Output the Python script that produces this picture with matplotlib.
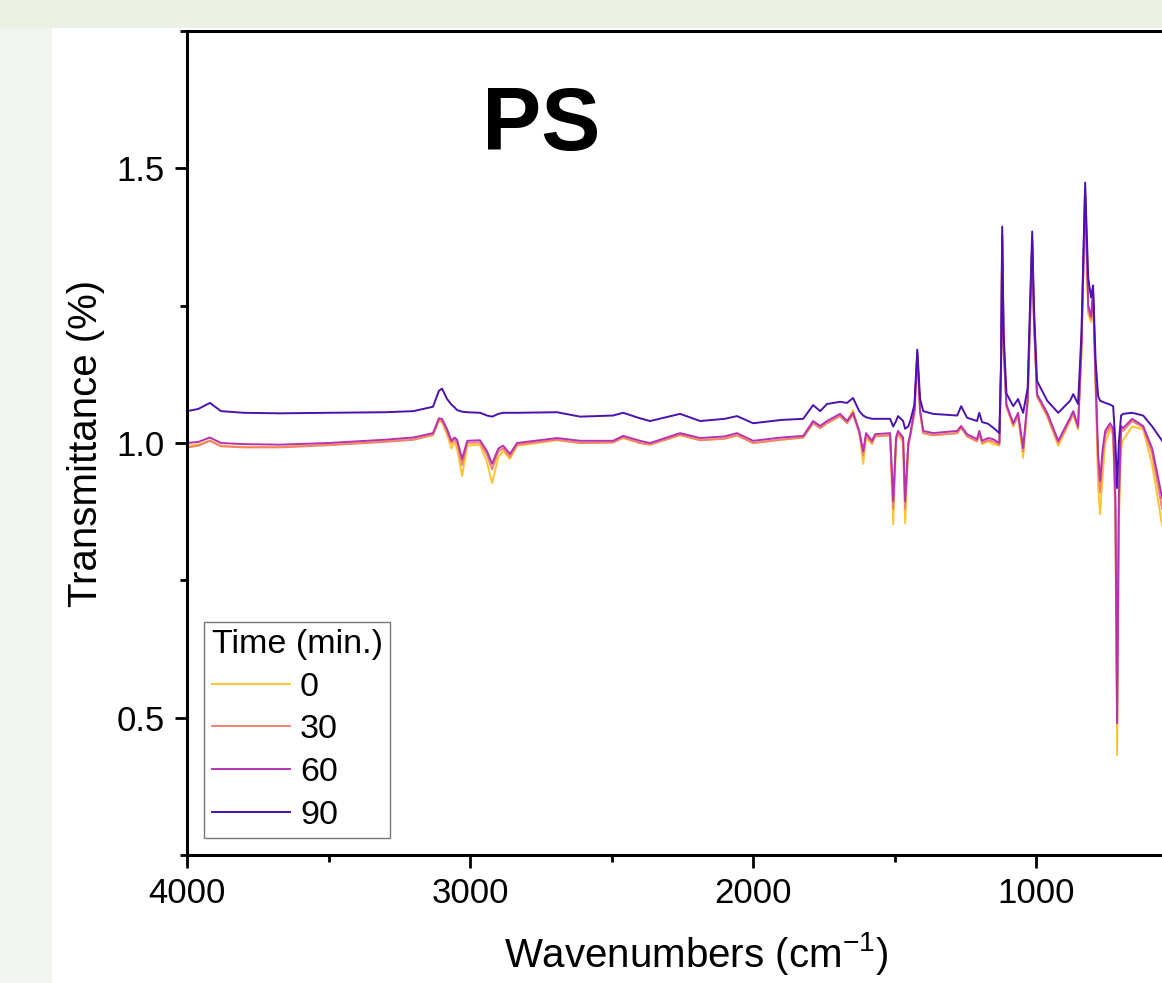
import matplotlib
matplotlib.use("Agg")
import matplotlib.pyplot as plt
from matplotlib.ticker import MultipleLocator
from matplotlib.patches import Rectangle

plt.rcParams['font.family'] = ['Liberation Sans', 'DejaVu Sans']

# ---- data ----
wavenumber = [4000, 3960, 3919, 3880, 3800, 3671, 3500, 3300, 3200, 3131,
              3110, 3099, 3081, 3066, 3055, 3046, 3028, 3010, 2965, 2940,
              2922, 2900, 2883, 2859, 2834, 2693, 2611, 2495, 2459, 2400,
              2364, 2258, 2187, 2100, 2057, 2000, 1900, 1823, 1788, 1763,
              1739, 1693, 1668, 1647, 1625, 1611, 1601, 1580, 1569, 1516,
              1505, 1495, 1488, 1470, 1463, 1452, 1445, 1430, 1420, 1410,
              1399, 1364, 1279, 1265, 1244, 1209, 1201, 1191, 1170, 1152,
              1130, 1124, 1120, 1115, 1105, 1081, 1064, 1046, 1030, 1019,
              1014, 1008, 997, 961, 922, 880, 869, 852, 840, 827,
              816, 806, 799, 790, 781, 774, 765, 756, 739, 728,
              720, 714, 708, 700, 693, 661, 622, 590, 555]

t90 = [1.058, 1.062, 1.073, 1.058, 1.055, 1.054, 1.055, 1.056, 1.058, 1.066,
       1.095, 1.099, 1.080, 1.070, 1.065, 1.060, 1.057, 1.056, 1.055, 1.050,
       1.048, 1.053, 1.055, 1.055, 1.055, 1.056, 1.048, 1.050, 1.055, 1.045,
       1.040, 1.053, 1.040, 1.044, 1.049, 1.036, 1.042, 1.044, 1.069, 1.058,
       1.071, 1.075, 1.073, 1.082, 1.058, 1.050, 1.047, 1.044, 1.044, 1.044,
       1.030, 1.040, 1.049, 1.040, 1.026, 1.030, 1.040, 1.070, 1.170, 1.080,
       1.058, 1.053, 1.050, 1.067, 1.046, 1.040, 1.055, 1.038, 1.035, 1.028,
       1.018, 1.150, 1.394, 1.200, 1.090, 1.067, 1.080, 1.055, 1.100, 1.300,
       1.385, 1.250, 1.113, 1.077, 1.055, 1.077, 1.089, 1.071, 1.200, 1.474,
       1.300, 1.265, 1.287, 1.150, 1.085, 1.077, 1.075, 1.073, 1.070, 1.067,
       1.000, 0.918, 1.000, 1.050, 1.053, 1.055, 1.050, 1.030, 1.004]

t60 = [1.000, 1.002, 1.010, 1.000, 0.998, 0.997, 1.000, 1.006, 1.010, 1.018,
       1.045, 1.044, 1.025, 1.004, 1.010, 1.006, 0.971, 1.004, 1.005, 0.985,
       0.962, 0.990, 0.995, 0.980, 1.000, 1.009, 1.004, 1.004, 1.013, 1.004,
       1.000, 1.018, 1.009, 1.012, 1.018, 1.004, 1.010, 1.013, 1.040, 1.031,
       1.040, 1.053, 1.040, 1.055, 1.022, 0.985, 1.018, 1.004, 1.016, 1.018,
       0.894, 1.010, 1.022, 1.010, 0.894, 1.000, 1.016, 1.060, 1.165, 1.060,
       1.022, 1.018, 1.022, 1.031, 1.016, 1.007, 1.022, 1.004, 1.009, 1.007,
       1.000, 1.140, 1.380, 1.180, 1.070, 1.036, 1.055, 0.991, 1.080, 1.280,
       1.370, 1.230, 1.089, 1.055, 1.004, 1.046, 1.058, 1.031, 1.180, 1.460,
       1.250, 1.230, 1.275, 1.120, 0.980, 0.931, 0.990, 1.022, 1.036, 1.027,
       0.900, 0.490, 0.900, 1.031, 1.027, 1.044, 1.031, 0.990, 0.900]

t30 = [0.992, 0.995, 1.004, 0.994, 0.992, 0.992, 0.996, 1.002, 1.006, 1.015,
       1.042, 1.040, 1.020, 1.000, 1.006, 1.000, 0.960, 1.000, 1.001, 0.978,
       0.952, 0.985, 0.990, 0.975, 0.997, 1.006, 1.000, 1.001, 1.010, 1.000,
       0.997, 1.015, 1.005, 1.008, 1.014, 1.000, 1.006, 1.010, 1.036, 1.027,
       1.036, 1.049, 1.036, 1.052, 1.018, 0.978, 1.014, 1.000, 1.012, 1.014,
       0.880, 1.005, 1.018, 1.005, 0.880, 0.995, 1.012, 1.055, 1.160, 1.055,
       1.018, 1.014, 1.018, 1.028, 1.012, 1.003, 1.018, 1.000, 1.005, 1.003,
       0.997, 1.135, 1.375, 1.175, 1.066, 1.032, 1.050, 0.985, 1.075, 1.270,
       1.365, 1.225, 1.085, 1.050, 1.000, 1.042, 1.054, 1.027, 1.170, 1.455,
       1.240, 1.225, 1.270, 1.110, 0.960, 0.910, 0.975, 1.015, 1.030, 1.022,
       0.880, 0.492, 0.880, 1.025, 1.022, 1.040, 1.028, 0.980, 0.880]

t0 = [0.995, 0.997, 1.005, 0.995, 0.993, 0.993, 0.997, 1.003, 1.006, 1.014,
      1.040, 1.038, 1.015, 0.990, 1.002, 0.990, 0.940, 0.995, 0.997, 0.965,
      0.927, 0.975, 0.985, 0.971, 0.995, 1.005, 1.000, 1.001, 1.009, 1.000,
      0.997, 1.014, 1.005, 1.008, 1.014, 1.000, 1.006, 1.010, 1.036, 1.027,
      1.036, 1.049, 1.040, 1.060, 1.020, 0.962, 1.010, 0.998, 1.012, 1.014,
      0.852, 1.000, 1.018, 1.000, 0.854, 0.990, 1.012, 1.055, 1.160, 1.055,
      1.018, 1.014, 1.018, 1.028, 1.012, 1.003, 1.018, 0.998, 1.003, 0.998,
      0.995, 1.130, 1.370, 1.170, 1.066, 1.030, 1.050, 0.973, 1.075, 1.260,
      1.360, 1.220, 1.085, 1.048, 0.995, 1.040, 1.052, 1.025, 1.160, 1.450,
      1.235, 1.220, 1.265, 1.100, 0.920, 0.870, 0.940, 1.000, 1.025, 1.015,
      0.850, 0.432, 0.850, 0.990, 1.005, 1.030, 1.025, 0.960, 0.850]

series_labels = ['0', '30', '60', '90']
series_values = [t0, t30, t60, t90]
series_colors = ['#FDC431', '#F2816E', '#B532B2', '#4B12AE']

xticks = [4000, 3000, 2000, 1000]
yticks = [0.5, 1.0, 1.5]

# ---- figure ----
W, H = 1162, 983
fig = plt.figure(figsize=(W / 100, H / 100), dpi=100, facecolor='#ebf1e5')
fig.patches.append(Rectangle((0, 0), 52 / W, 1 - 28 / H, transform=fig.transFigure,
                             facecolor='#f2f5ef', edgecolor='none', zorder=-2))
fig.patches.append(Rectangle((52 / W, 0), 1 - 52 / W, 1 - 28 / H, transform=fig.transFigure,
                             facecolor='white', edgecolor='none', zorder=-1))

left_px, right_px, top_px, bot_px = 187, 1206, 31, 855
ax = fig.add_axes([left_px / W, 1 - bot_px / H, (right_px - left_px) / W, (bot_px - top_px) / H])
ax.set_facecolor('none')

for lab, vals, col in zip(series_labels, series_values, series_colors):
    ax.plot(wavenumber, vals, color=col, lw=1.4, label=lab)

ax.set_xlim(4000, 400)
ax.set_ylim(0.25, 1.75)
ax.xaxis.set_major_locator(MultipleLocator(1000))
ax.xaxis.set_minor_locator(MultipleLocator(500))
ax.yaxis.set_major_locator(MultipleLocator(0.5))
ax.yaxis.set_minor_locator(MultipleLocator(0.25))
ax.set_xticks(xticks)
ax.set_yticks(yticks)
ax.set_xticklabels([str(v) for v in xticks])
ax.set_yticklabels([f'{v:.1f}' for v in yticks])

for sp in ax.spines.values():
    sp.set_linewidth(2.2)
ax.tick_params(which='major', direction='out', length=9, width=2.0, labelsize=25, pad=7,
               top=False, right=False)
ax.tick_params(which='minor', direction='out', length=5, width=2.0, top=False, right=False)

ax.set_xlabel('Wavenumbers (cm$^{\\mathregular{-1}}$)', fontsize=29, labelpad=14)
ax.set_ylabel('Transmittance (%)', fontsize=29, labelpad=8)

ax.text(0.348, 0.856, 'PS', transform=ax.transAxes, fontsize=64, fontweight='bold',
        ha='center', va='baseline')

leg = ax.legend(title='Time (min.)', loc='lower left', bbox_to_anchor=(0.0167, 0.0206),
                borderaxespad=0, fontsize=24.5, title_fontsize=24.5, fancybox=False,
                edgecolor='#777777', framealpha=1, handlelength=2.3, handletextpad=0.3,
                labelspacing=0.34, borderpad=0.22, alignment='left')
leg.get_frame().set_linewidth(1.0)

fig.savefig('out.png', dpi=100, facecolor=fig.get_facecolor())
